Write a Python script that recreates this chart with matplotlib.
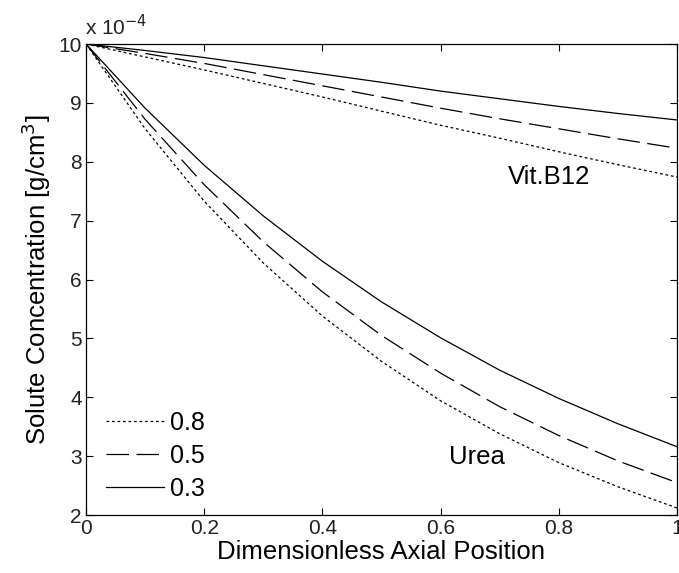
import numpy as np
import matplotlib
matplotlib.use('Agg')
import matplotlib.pyplot as plt

plt.rcParams['font.family'] = ['Liberation Sans', 'DejaVu Sans']

# axial position and concentrations (units of 1e-4 g/cm^3)
x = [0, 0.1, 0.2, 0.3, 0.4, 0.5, 0.6, 0.7, 0.8, 0.9, 1.0]

urea_08 = [10, 8.56, 7.33, 6.28, 5.38, 4.61, 3.94, 3.38, 2.89, 2.48, 2.12]
urea_05 = [10, 8.72, 7.61, 6.64, 5.79, 5.05, 4.41, 3.84, 3.35, 2.92, 2.55]
urea_03 = [10, 8.91, 7.94, 7.08, 6.31, 5.62, 5.01, 4.46, 3.98, 3.55, 3.16]

b12_08 = [10, 9.78, 9.56, 9.33, 9.10, 8.86, 8.62, 8.40, 8.17, 7.95, 7.74]
b12_05 = [10, 9.84, 9.67, 9.48, 9.29, 9.10, 8.91, 8.73, 8.56, 8.39, 8.23]
b12_03 = [10, 9.89, 9.77, 9.63, 9.49, 9.35, 9.20, 9.07, 8.94, 8.82, 8.71]

labels = ['0.8', '0.5', '0.3']

fig = plt.figure(figsize=(6.79, 5.73), dpi=100)
ax = fig.add_axes([0.1267, 0.1012, 0.8703, 0.822])

dot = (0, (2.2, 2.2))
dash = (0, (18, 6))
lw = 0.9

l1, = ax.plot(x, urea_08, color='k', lw=lw, linestyle=dot)
l2, = ax.plot(x, urea_05, color='k', lw=lw, linestyle=dash)
l3, = ax.plot(x, urea_03, color='k', lw=lw, linestyle='-')
ax.plot(x, b12_08, color='k', lw=lw, linestyle=dot)
ax.plot(x, b12_05, color='k', lw=lw, linestyle=dash)
ax.plot(x, b12_03, color='k', lw=lw, linestyle='-')

ax.set_xlim(0, 1)
ax.set_ylim(2, 10)
ax.set_xticks([0, 0.2, 0.4, 0.6, 0.8, 1.0])
ax.set_xticklabels(['0', '0.2', '0.4', '0.6', '0.8', '1'])
ax.set_yticks(range(2, 11))
ax.tick_params(direction='in', top=True, right=True, length=5, width=0.8,
               labelsize=15, pad=3, labelcolor='#222222')
for s in ax.spines.values():
    s.set_linewidth(0.9)

ax.set_xlabel('Dimensionless Axial Position', fontsize=18.5, labelpad=1)
ax.set_ylabel('Solute Concentration [g/cm$^3$]', fontsize=18.5, labelpad=4)

ax.text(-0.002, 1.01, r'x 10$^{-4}$', transform=ax.transAxes, fontsize=15,
        ha='left', va='bottom', color='#222222')
ax.text(0.783, 7.74, 'Vit.B12', fontsize=18.5, ha='center', va='center')
ax.text(0.661, 2.99, 'Urea', fontsize=18.5, ha='center', va='center')

ax.legend([l1, l2, l3], labels, loc='lower left', frameon=False, fontsize=18,
          handlelength=2.3, handletextpad=0.25, labelspacing=0.37,
          borderpad=0.3, bbox_to_anchor=(0.0, -0.013))

fig.savefig('out.png', dpi=100)
